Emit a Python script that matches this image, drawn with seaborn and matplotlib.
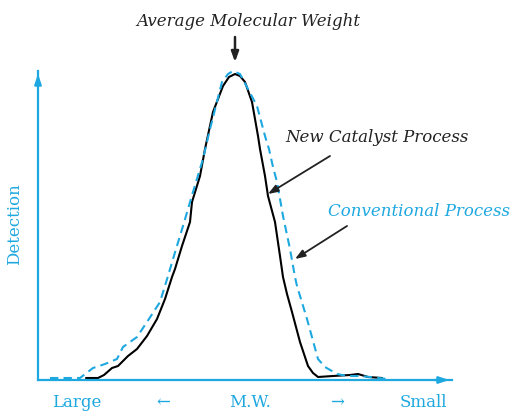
import matplotlib
matplotlib.use("Agg")
import matplotlib.pyplot as plt
import seaborn as sns

# position along the M.W. axis (left = large) and detector response
new_x = [48, 60, 66, 74, 80, 90, 99, 109, 119, 127, 134, 137, 144, 152, 154, 162, 167, 175, 185,
         191, 197, 202, 207, 214, 220, 222, 227, 230, 237, 242, 245, 249, 254, 262, 270, 275, 280,
         295, 312, 320, 330, 344]
new_y = [2, 2, 5, 12, 14, 24, 31, 44, 61, 81, 103, 111, 134, 158, 178, 204, 231, 268, 294,
         303, 306, 304, 298, 278, 244, 231, 204, 184, 158, 124, 103, 86, 68, 38, 14, 7, 3,
         4, 5, 6, 3, 2]

conv_x = [12, 42, 55, 67, 79, 85, 99, 109, 122, 130, 135, 145, 155, 165, 172, 184, 190, 195, 202,
          210, 219, 227, 231, 235, 239, 245, 252, 257, 259, 269, 280, 287, 299, 309, 322, 332, 349]
conv_y = [2, 2, 12, 16, 21, 33, 43, 58, 78, 104, 121, 154, 188, 221, 251, 298, 306, 309, 306,
          291, 274, 244, 231, 213, 198, 164, 131, 103, 94, 61, 21, 13, 6, 4, 4, 3, 1]

axis_labels = ["Large", "\u2190", "M.W.", "\u2192", "Small"]

BLUE = "#1ea8e0"
W, H = 511, 414

sns.set_style("white")
plt.rcParams["font.family"] = ["DejaVu Serif"]

fig = plt.figure(figsize=(W / 100, H / 100), dpi=100)
ax = fig.add_axes([38 / W, (H - 381) / H, 414 / W, 309 / H])

sns.lineplot(x=new_x, y=new_y, color="black", linewidth=1.5, ax=ax)
sns.lineplot(x=conv_x, y=conv_y, color=BLUE, linewidth=1.5, linestyle=(0, (4, 2.5)), ax=ax)

ax.set_xlim(0, 414)
ax.set_ylim(0, 309)
ax.set_xticks([])
ax.set_yticks([])
for side in ["top", "right"]:
    ax.spines[side].set_visible(False)
for side in ["left", "bottom"]:
    ax.spines[side].set_color(BLUE)
    ax.spines[side].set_linewidth(1.6)

# axis arrow heads
arrow_axis = dict(arrowstyle="-|>,head_length=0.6,head_width=0.2", color=BLUE, lw=1.6)
ax.annotate("", xy=(0, 1.0), xytext=(0, 0.95), xycoords="axes fraction", arrowprops=arrow_axis,
            annotation_clip=False)
ax.annotate("", xy=(1.0, 0), xytext=(0.95, 0), xycoords="axes fraction", arrowprops=arrow_axis,
            annotation_clip=False)

# annotations
arrow_k = dict(arrowstyle="-|>,head_length=0.6,head_width=0.22", color="#222222", lw=1.3,
               shrinkA=0, shrinkB=0)
ax.annotate("", xy=(197, 318), xytext=(197, 343), arrowprops=dict(arrow_k, lw=1.8),
            annotation_clip=False)
fig.text(248 / W, 1 - 22 / H, "Average Molecular Weight", ha="center", va="center",
         fontsize=12, style="italic", color="#222222")

ax.annotate("", xy=(230, 186), xytext=(292, 224), arrowprops=arrow_k, annotation_clip=False)
ax.text(339, 243, "New Catalyst Process", ha="center", va="center", fontsize=12,
        style="italic", color="#222222", clip_on=False)

ax.annotate("", xy=(257, 121), xytext=(309, 154), arrowprops=arrow_k, annotation_clip=False)
ax.text(381, 169, "Conventional Process", ha="center", va="center", fontsize=12,
        style="italic", color=BLUE, clip_on=False)

# axis titles
fig.text(15 / W, 1 - 224 / H, "Detection", rotation=90, ha="center", va="center",
         fontsize=12, color=BLUE)
for lbl, px in zip(axis_labels, [77, 163, 250, 337, 423]):
    fig.text(px / W, 1 - 403 / H, lbl, ha="center", va="center", fontsize=12, color=BLUE)

fig.savefig("out.png", dpi=100)
